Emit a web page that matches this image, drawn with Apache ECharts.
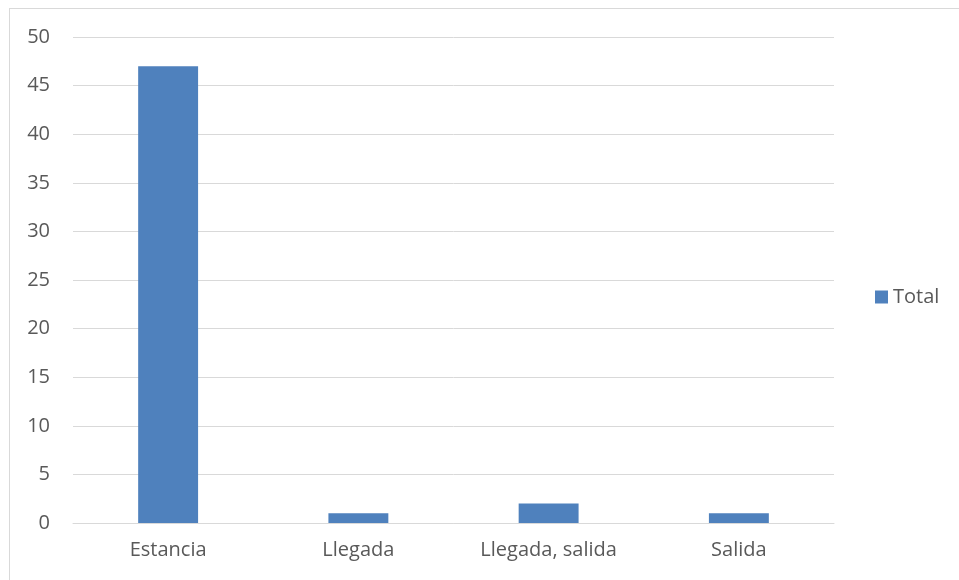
<!DOCTYPE html>
<html>
<head>
<meta charset="utf-8">
<script src="https://cdn.jsdelivr.net/npm/echarts@6/dist/echarts.min.js"></script>
<style>
html,body{margin:0;padding:0;background:#fff;}
#frame{position:absolute;left:9px;top:8px;width:1000px;height:600px;border-left:1px solid #d9d9d9;border-top:1px solid #d9d9d9;}
#chart{position:absolute;left:0;top:0;width:959px;height:580px;}
</style>
</head>
<body>
<div id="frame"></div>
<div id="chart"></div>
<script>
var categories = ['Estancia', 'Llegada', 'Llegada, salida', 'Salida'];
var totals = [47, 1, 2, 1];
var seriesName = 'Total';

var chart = echarts.init(document.getElementById('chart'));
var font = '"Open Sans", "Noto Sans", sans-serif';
chart.setOption({
  animation: false,
  textStyle: {fontFamily: font},
  grid: {left: 73, right: 125, top: 37, bottom: 57, containLabel: false},
  legend: {
    data: [seriesName],
    orient: 'vertical',
    left: 875, top: 287,
    padding: 0,
    itemWidth: 13, itemHeight: 13, itemGap: 5,
    icon: 'rect',
    textStyle: {color: '#595959', fontSize: 20, fontFamily: font, padding: [0,0,0,0]}
  },
  xAxis: {
    type: 'category',
    data: categories,
    axisLine: {lineStyle: {color: '#d9d9d9', width: 1}},
    axisTick: {show: false},
    axisLabel: {color: '#595959', fontSize: 20, margin: 17, fontFamily: font}
  },
  yAxis: {
    type: 'value',
    min: 0, max: 50, interval: 5,
    axisLine: {show: false},
    axisTick: {show: false},
    splitLine: {lineStyle: {color: '#d9d9d9', width: 1}},
    axisLabel: {color: '#595959', fontSize: 20, margin: 23, fontFamily: font}
  },
  series: [{
    name: seriesName,
    type: 'bar',
    data: totals,
    barWidth: '31.5%',
    itemStyle: {color: '#4f81bd'}
  }]
});
</script>
</body>
</html>
